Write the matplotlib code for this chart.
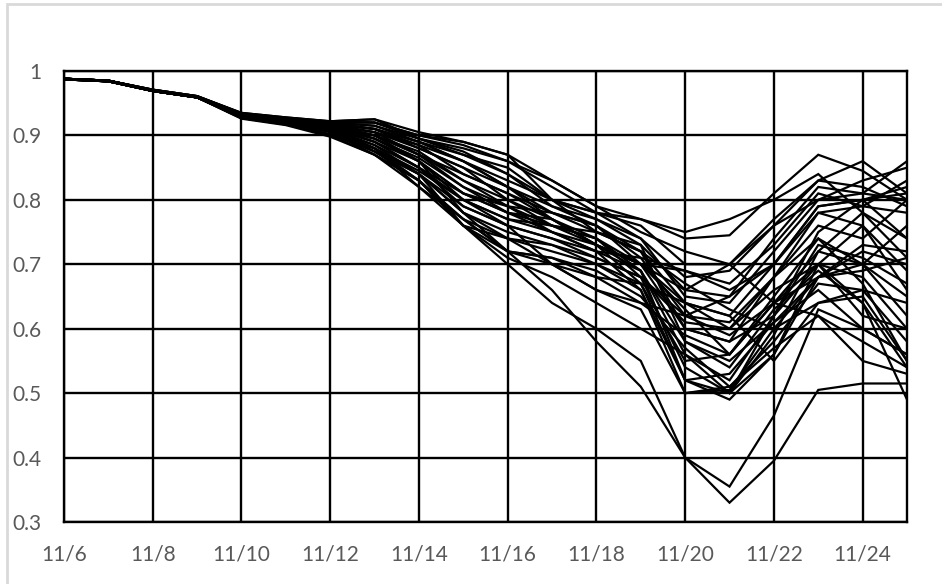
import matplotlib.pyplot as plt
from matplotlib.patches import Rectangle

# dates 11/6 .. 11/25
days = list(range(6, 26))
tick_days = list(range(6, 26, 2))
tick_labels = [f"11/{d}" for d in tick_days]
y_ticks = [0.3, 0.4, 0.5, 0.6, 0.7, 0.8, 0.9, 1.0]
y_labels = ["0.3", "0.4", "0.5", "0.6", "0.7", "0.8", "0.9", "1"]

series = [
    [0.988, 0.985, 0.971, 0.961, 0.935, 0.928, 0.922, 0.925, 0.905, 0.890, 0.870, 0.830, 0.790, 0.770, 0.740, 0.745, 0.810, 0.870, 0.845, 0.800],
    [0.988, 0.985, 0.970, 0.960, 0.934, 0.927, 0.921, 0.920, 0.900, 0.885, 0.860, 0.820, 0.780, 0.760, 0.700, 0.700, 0.770, 0.830, 0.860, 0.810],
    [0.987, 0.985, 0.970, 0.960, 0.933, 0.926, 0.920, 0.915, 0.895, 0.870, 0.850, 0.800, 0.780, 0.740, 0.650, 0.640, 0.720, 0.800, 0.830, 0.850],
    [0.987, 0.984, 0.969, 0.959, 0.932, 0.925, 0.919, 0.910, 0.890, 0.860, 0.830, 0.800, 0.770, 0.730, 0.660, 0.650, 0.740, 0.820, 0.810, 0.800],
    [0.988, 0.985, 0.970, 0.960, 0.931, 0.924, 0.918, 0.910, 0.880, 0.850, 0.820, 0.790, 0.760, 0.720, 0.640, 0.620, 0.700, 0.790, 0.800, 0.810],
    [0.987, 0.984, 0.969, 0.959, 0.930, 0.923, 0.917, 0.905, 0.885, 0.840, 0.810, 0.780, 0.760, 0.700, 0.600, 0.580, 0.680, 0.780, 0.790, 0.780],
    [0.988, 0.985, 0.970, 0.960, 0.932, 0.925, 0.916, 0.900, 0.875, 0.830, 0.800, 0.770, 0.740, 0.690, 0.560, 0.520, 0.620, 0.750, 0.800, 0.740],
    [0.987, 0.984, 0.969, 0.959, 0.931, 0.924, 0.915, 0.900, 0.870, 0.820, 0.790, 0.760, 0.740, 0.680, 0.540, 0.500, 0.590, 0.720, 0.780, 0.710],
    [0.988, 0.985, 0.970, 0.960, 0.930, 0.923, 0.914, 0.895, 0.865, 0.820, 0.780, 0.770, 0.730, 0.670, 0.520, 0.490, 0.560, 0.700, 0.760, 0.660],
    [0.987, 0.984, 0.969, 0.959, 0.929, 0.922, 0.913, 0.895, 0.860, 0.810, 0.790, 0.750, 0.720, 0.660, 0.500, 0.505, 0.600, 0.680, 0.700, 0.650],
    [0.988, 0.985, 0.970, 0.960, 0.931, 0.924, 0.914, 0.890, 0.860, 0.800, 0.770, 0.760, 0.740, 0.700, 0.630, 0.560, 0.650, 0.740, 0.670, 0.550],
    [0.987, 0.984, 0.969, 0.959, 0.930, 0.923, 0.912, 0.890, 0.850, 0.810, 0.780, 0.750, 0.720, 0.690, 0.580, 0.540, 0.630, 0.690, 0.640, 0.540],
    [0.988, 0.985, 0.970, 0.960, 0.929, 0.921, 0.911, 0.885, 0.850, 0.790, 0.760, 0.740, 0.710, 0.680, 0.610, 0.600, 0.660, 0.700, 0.620, 0.600],
    [0.987, 0.984, 0.969, 0.959, 0.930, 0.922, 0.912, 0.880, 0.845, 0.800, 0.770, 0.750, 0.730, 0.700, 0.660, 0.700, 0.760, 0.800, 0.810, 0.860],
    [0.988, 0.985, 0.970, 0.960, 0.929, 0.921, 0.910, 0.880, 0.840, 0.790, 0.760, 0.740, 0.720, 0.710, 0.690, 0.670, 0.730, 0.810, 0.790, 0.830],
    [0.987, 0.984, 0.969, 0.959, 0.928, 0.920, 0.909, 0.875, 0.840, 0.780, 0.750, 0.730, 0.710, 0.680, 0.620, 0.610, 0.680, 0.760, 0.740, 0.800],
    [0.988, 0.985, 0.970, 0.960, 0.928, 0.920, 0.908, 0.875, 0.830, 0.770, 0.740, 0.720, 0.700, 0.670, 0.550, 0.560, 0.640, 0.720, 0.700, 0.760],
    [0.987, 0.984, 0.969, 0.959, 0.927, 0.919, 0.906, 0.870, 0.830, 0.760, 0.740, 0.730, 0.700, 0.660, 0.520, 0.530, 0.610, 0.680, 0.690, 0.710],
    [0.988, 0.985, 0.970, 0.960, 0.927, 0.918, 0.900, 0.870, 0.820, 0.770, 0.720, 0.710, 0.690, 0.650, 0.570, 0.510, 0.580, 0.670, 0.660, 0.640],
    [0.988, 0.985, 0.971, 0.961, 0.935, 0.928, 0.922, 0.925, 0.895, 0.880, 0.860, 0.830, 0.790, 0.750, 0.720, 0.700, 0.640, 0.620, 0.580, 0.540],
    [0.988, 0.985, 0.971, 0.961, 0.934, 0.927, 0.921, 0.920, 0.900, 0.890, 0.870, 0.800, 0.780, 0.770, 0.750, 0.770, 0.800, 0.840, 0.780, 0.740],
    [0.987, 0.985, 0.970, 0.960, 0.933, 0.926, 0.920, 0.915, 0.890, 0.870, 0.840, 0.800, 0.750, 0.720, 0.670, 0.630, 0.600, 0.640, 0.660, 0.580],
    [0.988, 0.984, 0.970, 0.960, 0.932, 0.925, 0.918, 0.910, 0.885, 0.860, 0.820, 0.780, 0.760, 0.710, 0.620, 0.590, 0.640, 0.680, 0.720, 0.700],
    [0.987, 0.985, 0.969, 0.959, 0.931, 0.924, 0.917, 0.905, 0.880, 0.850, 0.800, 0.760, 0.750, 0.730, 0.580, 0.550, 0.610, 0.660, 0.600, 0.560],
    [0.988, 0.984, 0.970, 0.960, 0.931, 0.923, 0.916, 0.900, 0.870, 0.830, 0.790, 0.780, 0.750, 0.720, 0.600, 0.580, 0.620, 0.730, 0.710, 0.670],
    [0.987, 0.985, 0.969, 0.959, 0.930, 0.922, 0.913, 0.895, 0.860, 0.780, 0.720, 0.710, 0.680, 0.640, 0.590, 0.560, 0.640, 0.700, 0.680, 0.600],
    [0.988, 0.984, 0.970, 0.960, 0.929, 0.921, 0.911, 0.890, 0.850, 0.800, 0.760, 0.700, 0.680, 0.670, 0.640, 0.620, 0.550, 0.640, 0.650, 0.550],
    [0.987, 0.985, 0.969, 0.959, 0.929, 0.920, 0.908, 0.885, 0.840, 0.780, 0.740, 0.700, 0.660, 0.640, 0.620, 0.650, 0.700, 0.780, 0.760, 0.690],
    [0.988, 0.984, 0.970, 0.960, 0.928, 0.919, 0.905, 0.880, 0.830, 0.760, 0.720, 0.700, 0.660, 0.630, 0.500, 0.510, 0.570, 0.620, 0.550, 0.530],
    [0.987, 0.985, 0.969, 0.959, 0.927, 0.918, 0.902, 0.875, 0.840, 0.760, 0.710, 0.680, 0.640, 0.600, 0.560, 0.500, 0.560, 0.680, 0.730, 0.720],
    [0.988, 0.984, 0.970, 0.960, 0.927, 0.917, 0.900, 0.880, 0.820, 0.760, 0.700, 0.640, 0.600, 0.550, 0.400, 0.330, 0.395, 0.505, 0.515, 0.515],
    [0.987, 0.985, 0.969, 0.959, 0.926, 0.916, 0.898, 0.870, 0.830, 0.770, 0.720, 0.660, 0.580, 0.510, 0.400, 0.355, 0.465, 0.630, 0.600, 0.560],
    [0.988, 0.985, 0.970, 0.960, 0.932, 0.925, 0.919, 0.910, 0.890, 0.860, 0.820, 0.770, 0.730, 0.700, 0.690, 0.660, 0.700, 0.790, 0.800, 0.820],
    [0.988, 0.985, 0.971, 0.961, 0.934, 0.927, 0.921, 0.920, 0.895, 0.875, 0.840, 0.790, 0.770, 0.740, 0.680, 0.690, 0.760, 0.830, 0.820, 0.790],
    [0.987, 0.984, 0.969, 0.959, 0.931, 0.923, 0.915, 0.905, 0.870, 0.840, 0.810, 0.770, 0.730, 0.700, 0.640, 0.600, 0.680, 0.740, 0.700, 0.620],
    [0.988, 0.985, 0.970, 0.960, 0.930, 0.922, 0.912, 0.900, 0.860, 0.810, 0.780, 0.760, 0.730, 0.690, 0.520, 0.500, 0.620, 0.700, 0.640, 0.490],
]

plt.rcParams['font.family'] = ['Lato', 'DejaVu Sans']

fig = plt.figure(figsize=(9.42, 5.84), dpi=100)
ax = fig.add_axes([64 / 942, 62 / 584, 843 / 942, 451 / 584])

for vals in series:
    ax.plot(days, vals, color="black", linewidth=1.6, solid_joinstyle="miter")

ax.set_xlim(6, 25)
ax.set_ylim(0.3, 1.0)
ax.set_xticks(tick_days)
ax.set_xticklabels(tick_labels)
ax.set_yticks(y_ticks)
ax.set_yticklabels(y_labels)
ax.grid(True, color="black", linewidth=1.7)
ax.set_axisbelow(True)
for sp in ax.spines.values():
    sp.set_color("black")
    sp.set_linewidth(1.7)
ax.tick_params(length=0, labelsize=15, labelcolor="#595959")
ax.tick_params(axis="x", pad=16)
ax.tick_params(axis="y", pad=16)

# light gray chart border
fig.patches.append(Rectangle((7 / 942, -0.1), 1.2, 1.1 - 4 / 584, transform=fig.transFigure,
                             fill=False, edgecolor="#d9d9d9", linewidth=2, zorder=-1))

fig.savefig("out.png", dpi=100)
